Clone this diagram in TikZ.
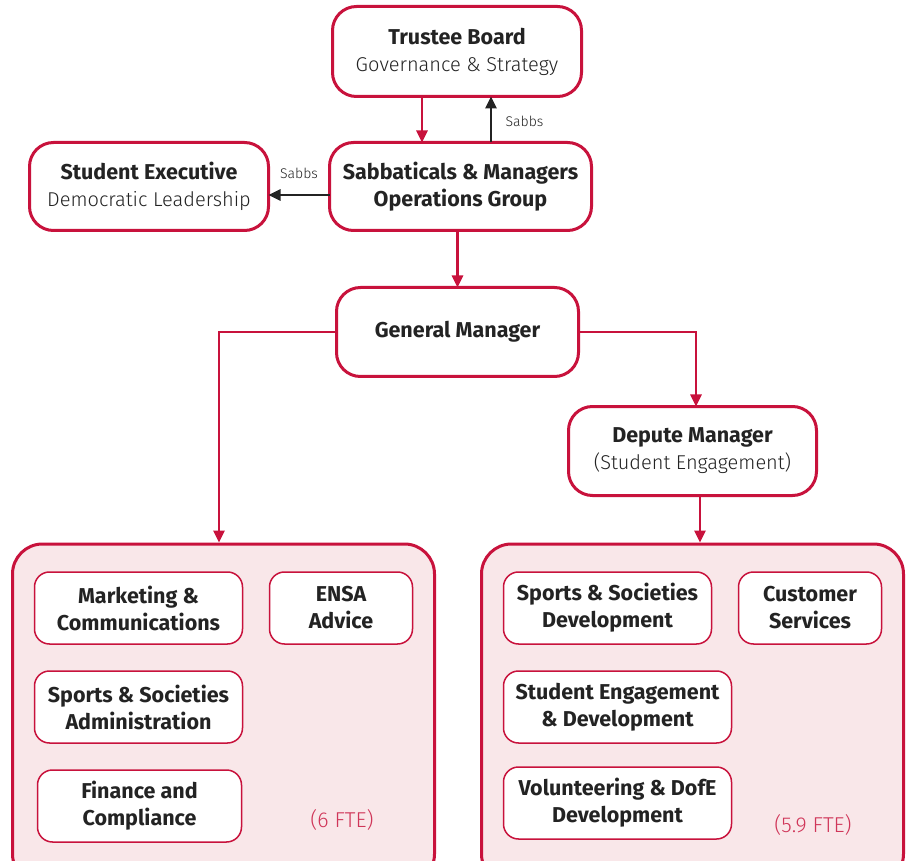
\documentclass[tikz,border=0pt]{standalone}
\usepackage{fontspec}
\setmainfont{Fira Sans}
\newfontfamily\lightfont{Fira Sans Light}
\usetikzlibrary{positioning, arrows.meta}
\definecolor{unired}{RGB}{200,18,60}
\definecolor{unipink}{RGB}{249,231,233}
\definecolor{ink}{RGB}{35,35,35}
\newcommand{\boxtitle}[1]{\textbf{\fontsize{21.5}{27}\selectfont #1}}
\tikzset{
    x=1pt, y=1pt, % one unit is one pixel of the page
    box/.style={draw=unired, line width=3pt, rounded corners=24pt, fill=white, align=center, text=ink, font=\fontsize{20}{27}\selectfont, inner sep=0pt, outer sep=0pt}, % the main boxes
    group/.style={draw=unired, line width=3pt, rounded corners=30pt, fill=unipink}, % the two team areas
    team/.style={draw=unired, line width=1.5pt, rounded corners=15pt, fill=white, align=center, text=ink, font=\fontsize{21.5}{27}\selectfont\bfseries, inner sep=0pt, minimum height=72pt}, % boxes inside the areas
    link/.style={draw=unired, line width=2.5pt, -{Triangle[length=12pt, width=11pt]}}, % red arrows
    sabbs/.style={draw=ink, line width=2.5pt, -{Triangle[length=12pt, width=11pt]}}, % black arrows
    fte/.style={text=unired!85, font=\fontsize{21.5}{24}\selectfont\lightfont}, % staff count
    note/.style={text=ink, font=\fontsize{14}{16}\selectfont\lightfont}, % arrow labels
}

\begin{document}
\begin{tikzpicture}
    \useasboundingbox (0,0) rectangle (906,-861);
    \node[box, minimum width=249pt, minimum height=90pt] (board) at (457,-51.5) {\boxtitle{Trustee Board}\\{\lightfont Governance \& Strategy}};
    \node[box, minimum width=262pt, minimum height=88pt, below=46pt of board, xshift=3.5pt] (sabb) {\boxtitle{Sabbaticals \& Managers}\\\boxtitle{Operations Group}};
    \node[box, minimum width=239pt, minimum height=88pt, left=61pt of sabb] (exec) {\boxtitle{Student Executive}\\{\lightfont Democratic Leadership}};
    \node[box, minimum width=242pt, minimum height=89pt, below=57pt of sabb, xshift=-3pt] (gm) {\boxtitle{General Manager}};
    \node[box, minimum width=248pt, minimum height=89pt, below=30pt of gm, xshift=235pt] (dep) {\boxtitle{Depute Manager}\\{\lightfont (Student Engagement)}};

    \node[group, minimum width=422pt, minimum height=340pt] (lgroup) at (223.5,-714) {};
    \node[group, minimum width=422pt, minimum height=340pt] (rgroup) at (692.5,-714) {};

    \node[team, minimum width=208pt] (mark) at (138.5,-608) {Marketing \&\\Communications};
    \node[team, minimum width=143pt] (ensa) at (341,-608) {ENSA\\Advice};
    \node[team, minimum width=208pt] (admin) at (138.5,-707) {Sports \& Societies\\Administration};
    \node[team, minimum width=204pt] (fin) at (139.5,-806) {Finance and\\Compliance};
    \node[fte] (lfte) at (342,-820) {(6 FTE)};

    \node[team, minimum width=208pt] (dev) at (607.5,-608) {Sports \& Societies\\Development};
    \node[team, minimum width=143pt] (cust) at (810,-608) {Customer\\Services};
    \node[team, minimum width=228pt] (eng) at (617.5,-707) {Student Engagement\\\& Development};
    \node[team, minimum width=228pt] (vol) at (617.5,-803) {Volunteering \& DofE\\Development};
    \node[fte] (rfte) at (813,-825) {(5.9 FTE)};

    \draw[link] ([xshift=-35pt]board.south) -- ([xshift=-35pt]board.south |- sabb.north);
    \draw[sabbs] ([xshift=30.5pt]sabb.north) -- ([xshift=30.5pt]sabb.north |- board.south) node[note, midway, right=10pt, yshift=-2pt] {Sabbs};
    \draw[sabbs] ([yshift=-8.5pt]sabb.west) -- ([yshift=-8.5pt]sabb.west -| exec.east) node[note, midway, above=12pt] {Sabbs};
    \draw[link] (sabb.south -| gm.north) -- (gm.north);
    \draw[link] (gm.west) -| ([xshift=-4.5pt]lgroup.north);
    \draw[link] (gm.east) -| ([xshift=3.5pt]dep.north);
    \draw[link] ([xshift=7.5pt]dep.south) -- ([xshift=7.5pt]dep.south |- rgroup.north);
\end{tikzpicture}
\end{document}
